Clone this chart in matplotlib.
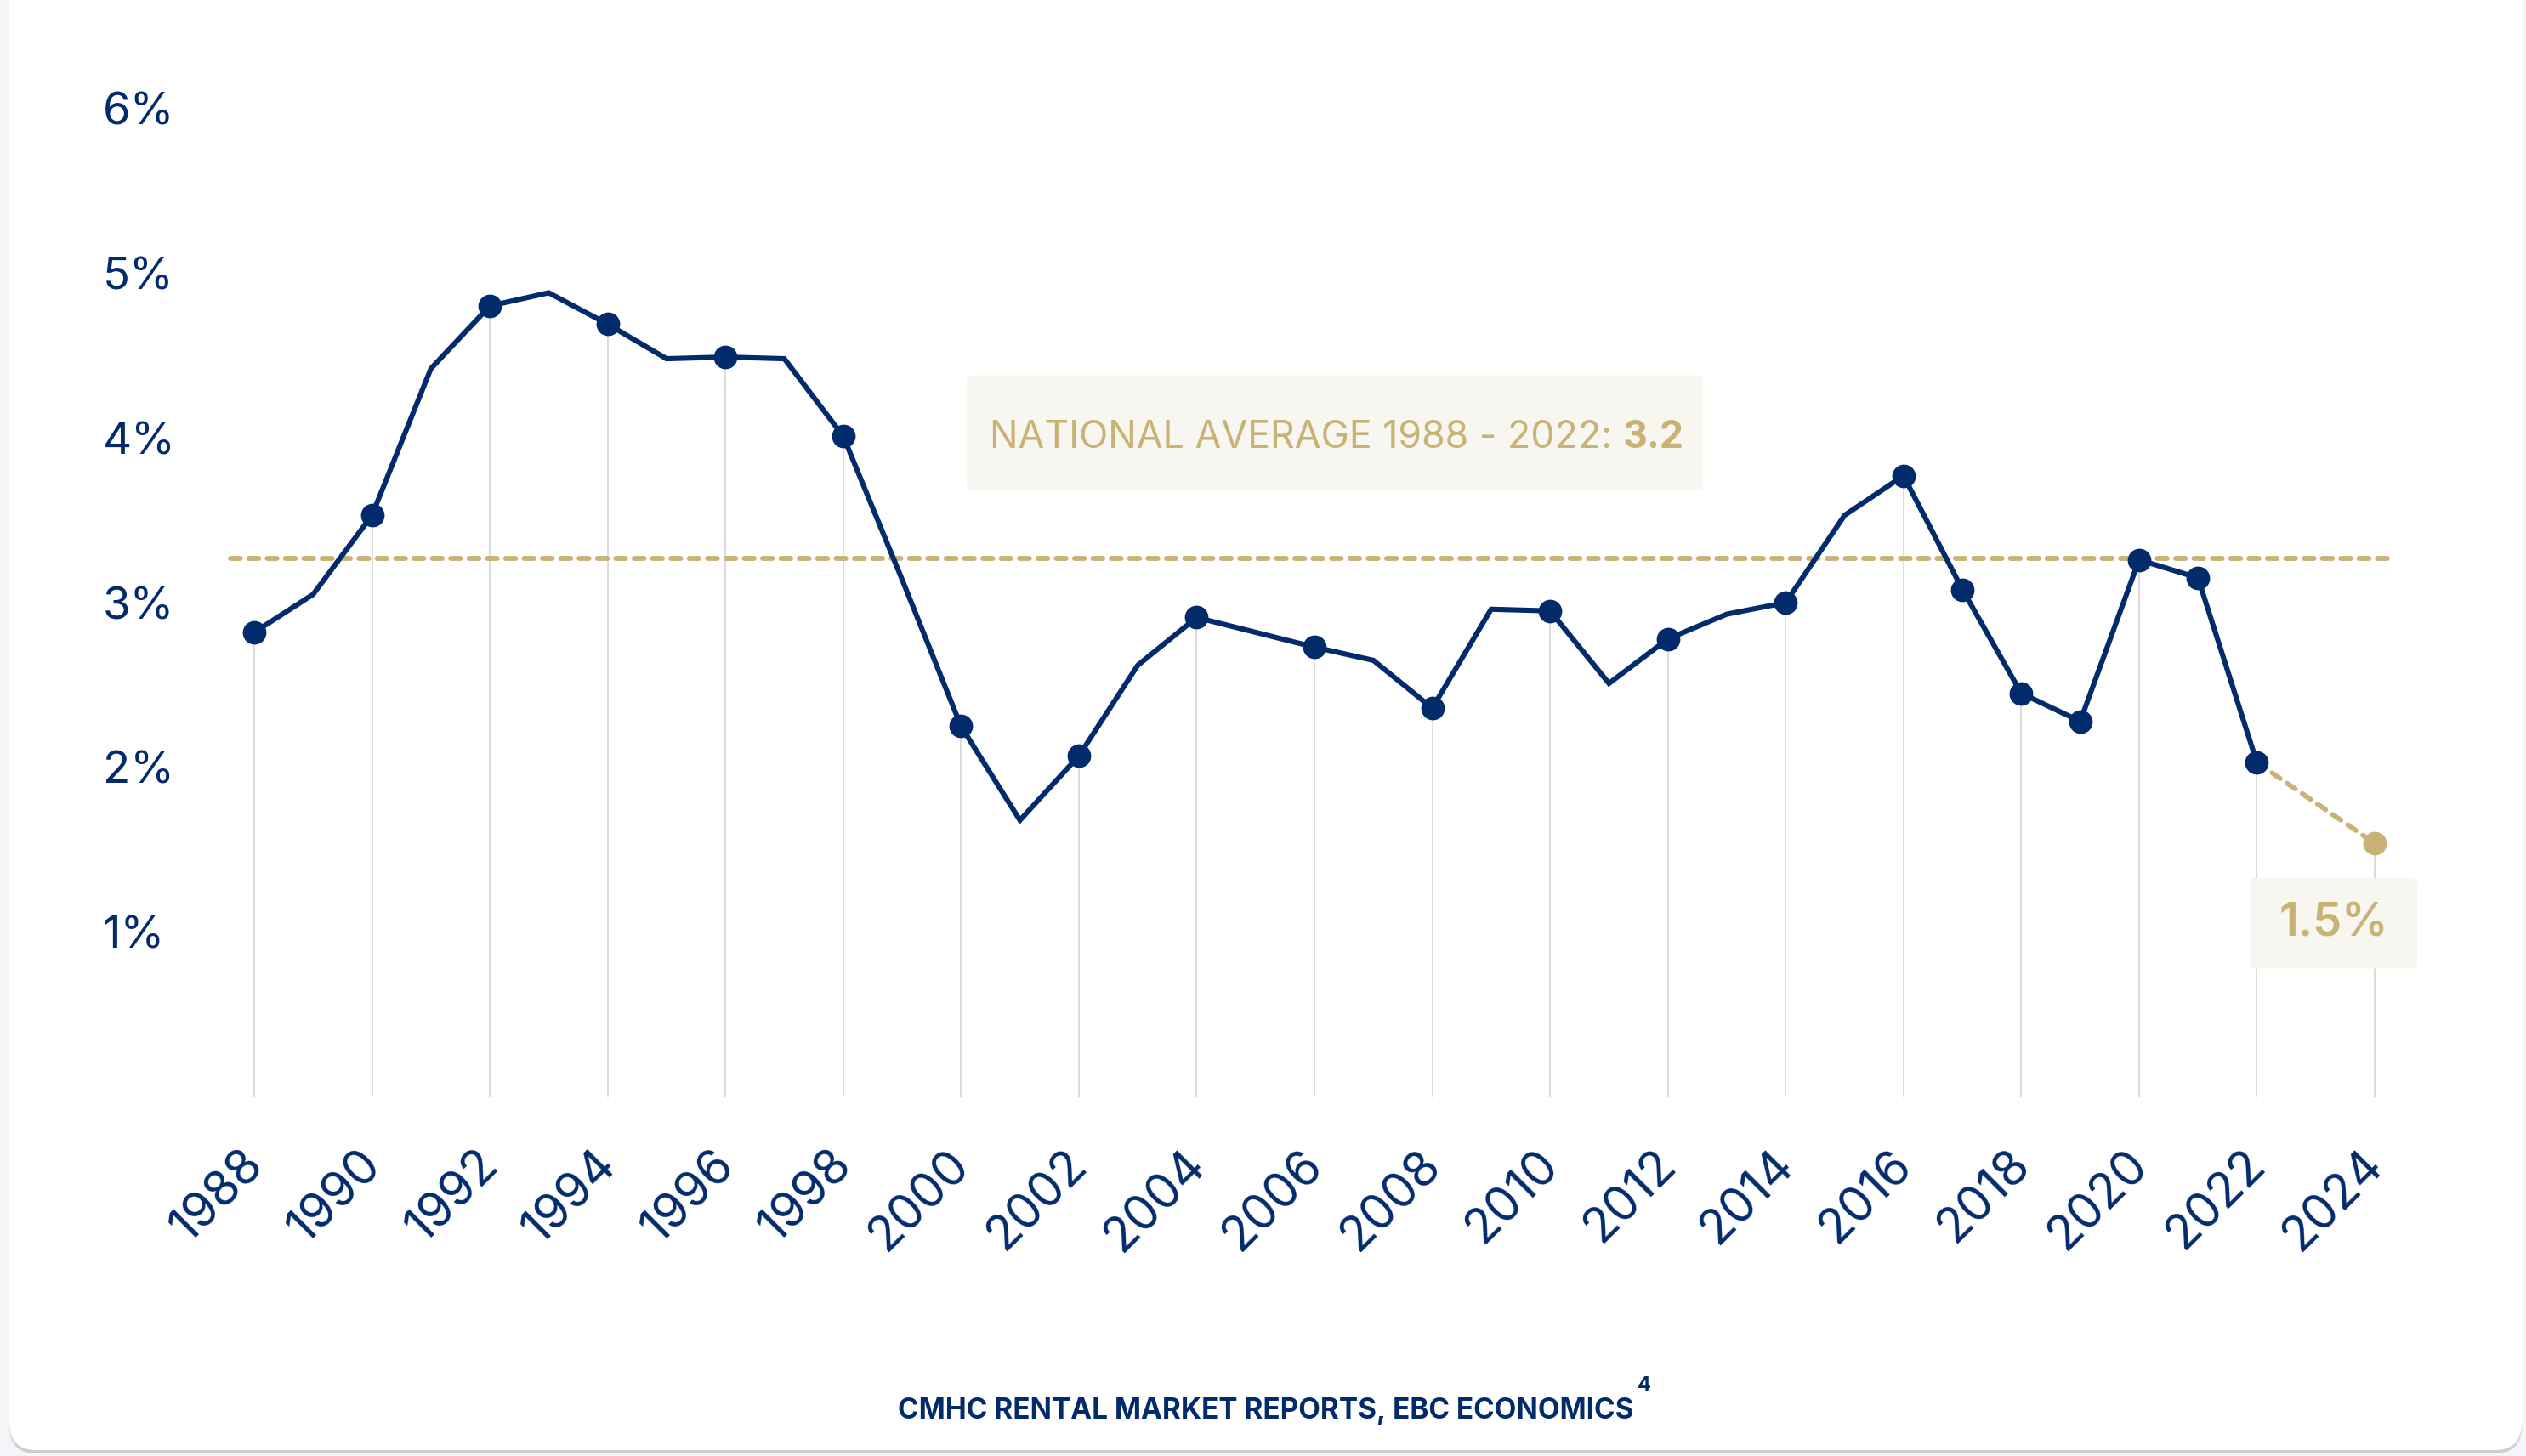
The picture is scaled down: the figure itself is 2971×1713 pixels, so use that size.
import matplotlib
matplotlib.use('Agg')
import matplotlib.pyplot as plt
from matplotlib.patches import FancyBboxPatch
from matplotlib.transforms import ScaledTranslation

# vacancy rate, national
years = [1988, 1989, 1990, 1991, 1992, 1993, 1994, 1995, 1996, 1997,
         1998, 1999, 2000, 2001, 2002, 2003, 2004, 2005, 2006, 2007,
         2008, 2009, 2010, 2011, 2012, 2013, 2014, 2015, 2016, 2017,
         2018, 2019, 2020, 2021, 2022]
rates = [2.82, 3.05, 3.53, 4.42, 4.80, 4.88, 4.69, 4.48, 4.49, 4.48,
         4.01, 3.14, 2.25, 1.68, 2.07, 2.62, 2.91, 2.82, 2.73, 2.65,
         2.36, 2.96, 2.95, 2.51, 2.78, 2.93, 3.00, 3.53, 3.77, 3.08,
         2.45, 2.28, 3.26, 3.15, 2.03]

# years that carry a dot
marker_years = [1988, 1990, 1992, 1994, 1996, 1998, 2000, 2002, 2004, 2006,
                2008, 2010, 2012, 2014, 2016, 2017, 2018, 2019, 2020, 2021, 2022]

forecast_years = [2022, 2024]
forecast_rates = [2.03, 1.54]

avg_rate = 3.27
avg_text = 'NATIONAL AVERAGE 1988 - 2022: '
avg_value_text = '3.2'
forecast_text = '1.5%'

ytick_vals = [1, 2, 3, 4, 5, 6]
ytick_labels = ['1%', '2%', '3%', '4%', '5%', '6%']
xtick_years = list(range(1988, 2025, 2))

source = 'CMHC RENTAL MARKET REPORTS, EBC ECONOMICS'

navy = '#022b6b'
gold = '#c8b274'
boxbg = '#f7f6f1'
grid = '#d9d9d9'

plt.rcParams['font.family'] = ['Inter', 'DejaVu Sans']

fig = plt.figure(figsize=(29.71, 17.13), dpi=100)
fig.patch.set_facecolor('#f4f5f8')

# card with shadow (pixel coords)
shadow = FancyBboxPatch((11, 3), 2955, 1760, boxstyle='round,pad=0,rounding_size=32',
                        transform=None, fc='#cfcfcf', ec='none', zorder=-2)
card = FancyBboxPatch((11, 7), 2955, 1760, boxstyle='round,pad=0,rounding_size=32',
                      transform=None, fc='white', ec='none', zorder=-1)
fig.patches.extend([shadow, card])

ax = fig.add_axes([0.05399, 0.22387, 0.93275, 0.75841])
ax.set_zorder(2)
ax.set_facecolor('none')
ax.set_xlim(1986, 2026)
ax.set_ylim(-0.2, 6.5)
for s in ax.spines.values():
    s.set_visible(False)

val = dict(zip(years, rates))
val.update(dict(zip(forecast_years, forecast_rates)))

# vertical drop lines at even years
for y in xtick_years:
    ax.vlines(y, 0, val[y], color=grid, lw=1.3, zorder=1)

# average line
ax.plot([1987.6, 2024.25], [avg_rate, avg_rate], color=gold, lw=4.2,
        dashes=(2.0, 1.7), dash_capstyle='round', zorder=2)

# forecast
ax.plot(forecast_years, forecast_rates, color=gold, lw=4.2,
        dashes=(2.0, 1.7), dash_capstyle='round', zorder=3)
ax.plot(forecast_years[-1:], forecast_rates[-1:], 'o', color=gold, ms=19, zorder=4)

# main series
ax.plot(years, rates, color=navy, lw=4.4, solid_joinstyle='miter', zorder=5)
ax.plot(marker_years, [val[y] for y in marker_years], 'o', color=navy, ms=19, zorder=6)

# average label box
ax.add_patch(FancyBboxPatch((2000.10, 3.68), 12.5, 0.70,
                            boxstyle='round,pad=0,rounding_size=0.08',
                            mutation_aspect=0.36, fc=boxbg, ec='none', zorder=7))
t1 = ax.text(2000.48, 3.94, avg_text, color=gold, fontsize=32.2,
             va='baseline', ha='left', zorder=8)
ax.annotate(avg_value_text, xy=(1, 0), xycoords=t1, va='bottom', ha='left',
            color=gold, fontsize=32.2, fontweight='bold', zorder=8)

# forecast label box
ax.add_patch(FancyBboxPatch((2021.88, 0.78), 2.84, 0.55,
                            boxstyle='round,pad=0,rounding_size=0.08',
                            mutation_aspect=0.36, fc=boxbg, ec='none', zorder=7))
ax.text(2023.30, 1.05, forecast_text, color=gold, fontsize=39, fontweight='semibold',
        ha='center', va='center', zorder=8)

ax.set_yticks(ytick_vals)
ax.set_yticklabels(ytick_labels)
ax.set_xticks(xtick_years)
ax.set_xticklabels([str(y) for y in xtick_years], rotation=45, ha='right',
                   rotation_mode='anchor')
ax.tick_params(axis='y', length=0, pad=28.4, labelsize=38, labelcolor=navy)
for lab in ax.get_yticklabels():
    lab.set_horizontalalignment('left')
ax.tick_params(axis='x', length=0, pad=10, labelsize=41, labelcolor=navy)
shift = ScaledTranslation(-0.17, 0, fig.dpi_scale_trans)
for lab in ax.get_xticklabels():
    lab.set_transform(lab.get_transform() + shift)

src = fig.text(0.501, 0.0309, source, ha='center', va='center', fontsize=24,
               fontweight='bold', color=navy)
ax.annotate('4', xy=(1, 1), xycoords=src, xytext=(3, 2), textcoords='offset points',
            ha='left', va='bottom', fontsize=17, fontweight='bold', color=navy,
            annotation_clip=False)

fig.savefig('out.png', dpi=100, facecolor=fig.get_facecolor())
